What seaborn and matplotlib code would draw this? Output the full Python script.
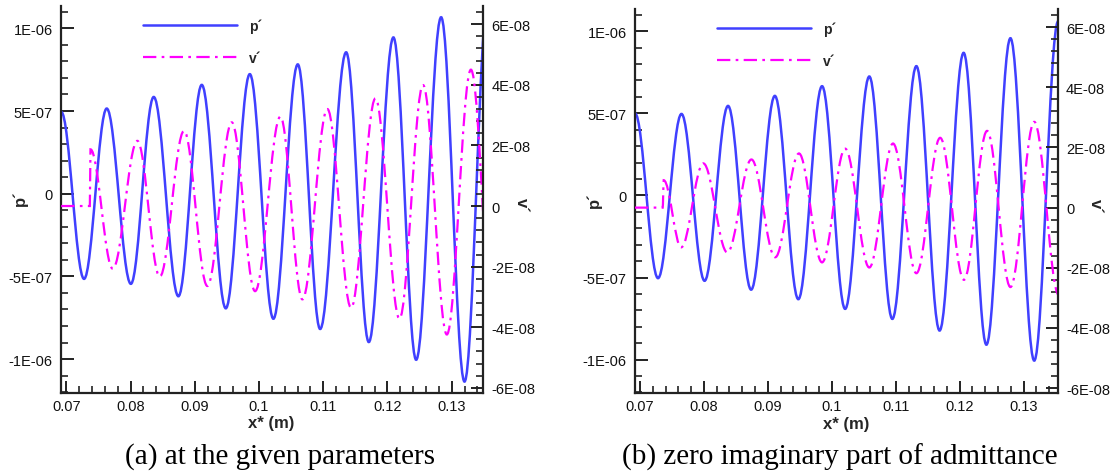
import matplotlib
matplotlib.use("Agg")
import matplotlib.pyplot as plt
import seaborn as sns
from matplotlib.path import Path
from matplotlib.patches import PathPatch
from matplotlib.lines import Line2D
from matplotlib.ticker import MultipleLocator

# ---------------- data (extrema) ----------------
# panel (a): at the given parameters
pa_x = [0.0692, 0.07276, 0.07629, 0.08005, 0.08361, 0.08745, 0.09109, 0.09483,
        0.09857, 0.10224, 0.10604, 0.10952, 0.11357, 0.11710, 0.12093, 0.12447,
        0.12836, 0.13200, 0.1357]
pa_y = [4.95e-7, -5.15e-7, 5.15e-7, -5.45e-7, 5.85e-7, -6.20e-7, 6.58e-7, -6.93e-7,
        7.23e-7, -7.56e-7, 7.82e-7, -8.18e-7, 8.55e-7, -8.97e-7, 9.45e-7, -1.004e-6,
        1.067e-6, -1.136e-6, 1.20e-6]
va_x = [0.0692, 0.07366, 0.07376, 0.07723, 0.08106, 0.08455, 0.08833, 0.09196,
        0.09576, 0.09939, 0.10333, 0.10676, 0.11065, 0.11434, 0.11813, 0.12187,
        0.12555, 0.12925, 0.13300, 0.1367]
va_y = [0.0, 0.0, 1.87e-8, -2.07e-8, 2.15e-8, -2.33e-8, 2.48e-8, -2.64e-8,
        2.76e-8, -2.81e-8, 2.95e-8, -3.08e-8, 3.20e-8, -3.36e-8, 3.55e-8, -3.72e-8,
        3.99e-8, -4.24e-8, 4.50e-8, -4.60e-8]

# panel (b): zero imaginary part of admittance
pb_x = [0.06923, 0.07283, 0.07650, 0.08011, 0.08378, 0.08739, 0.09110, 0.09477,
        0.09848, 0.10209, 0.10587, 0.10947, 0.11323, 0.11686, 0.12062, 0.12418,
        0.12794, 0.13166, 0.1354]
pb_y = [5.0e-7, -5.04e-7, 4.96e-7, -5.20e-7, 5.45e-7, -5.74e-7, 6.06e-7, -6.32e-7,
        6.65e-7, -6.91e-7, 7.24e-7, -7.52e-7, 7.87e-7, -8.23e-7, 8.68e-7, -9.09e-7,
        9.57e-7, -1.006e-6, 1.06e-6]
vb_x = [0.06923, 0.07356, 0.07372, 0.07645, 0.07991, 0.08367, 0.08744, 0.09116,
        0.09487, 0.09848, 0.10209, 0.10587, 0.10958, 0.11323, 0.11695, 0.12067,
        0.12429, 0.12794, 0.13166, 0.1355]
vb_y = [0.0, 0.0, 9.1e-9, -1.32e-8, 1.47e-8, -1.49e-8, 1.60e-8, -1.65e-8,
        1.80e-8, -1.82e-8, 1.96e-8, -1.99e-8, 2.13e-8, -2.18e-8, 2.32e-8, -2.40e-8,
        2.55e-8, -2.64e-8, 2.85e-8, -2.90e-8]

x_ticks = [0.07, 0.08, 0.09, 0.10, 0.11, 0.12, 0.13]
x_labels = ["0.07", "0.08", "0.09", "0.1", "0.11", "0.12", "0.13"]
p_ticks = [-1e-6, -5e-7, 0.0, 5e-7, 1e-6]
p_labels = ["-1E-06", "-5E-07", "0", "5E-07", "1E-06"]
v_ticks = [-6e-8, -4e-8, -2e-8, 0.0, 2e-8, 4e-8, 6e-8]
v_labels = ["-6E-08", "-4E-08", "-2E-08", "0", "2E-08", "4E-08", "6E-08"]
series_names = ["p\u00b4", "v\u00b4"]
captions = ["(a) at the given parameters", "(b) zero imaginary part of admittance"]

# ---------------- style ----------------
sns.set_theme(style="ticks")
plt.rcParams['font.family'] = ['Liberation Sans', 'DejaVu Sans']
BLUE = "#4040ff"
MAGENTA = "#ff00ff"
DARK = "#222222"
DASHDOT = (0, (6, 2.4, 1.2, 2.4))
P_LIM = (-1.205e-6, 1.135e-6)
V_LIM = (-6.17e-8, 6.6e-8)


def smooth_path(xs, ys, k=0.36):
    """Smooth (cosine-like) rendering through the read extrema."""
    verts = [(xs[0], ys[0])]
    codes = [Path.MOVETO]
    for i in range(1, len(xs)):
        x0, y0, x1, y1 = xs[i - 1], ys[i - 1], xs[i], ys[i]
        dx = x1 - x0
        verts += [(x0 + k * dx, y0), (x1 - k * dx, y1), (x1, y1)]
        codes += [Path.CURVE4] * 3
    return Path(verts, codes)


fig = plt.figure(figsize=(11.15, 4.77), dpi=100)
W, H = 1115.0, 477.0


def panel(rect, px, py, vx, vy, xlim, caption, cap_x, leg_px):
    ax = fig.add_axes(rect)
    ax2 = ax.twinx()
    ax.add_patch(PathPatch(smooth_path(px, py), fill=False, ec=BLUE, lw=1.8,
                           transform=ax.transData))
    ax2.add_patch(PathPatch(smooth_path(vx, vy), fill=False, ec=MAGENTA, lw=1.6,
                            ls=DASHDOT, transform=ax2.transData))
    ax.set_xlim(xlim)
    ax.set_ylim(P_LIM)
    ax2.set_ylim(V_LIM)

    for a in (ax, ax2):
        a.spines['top'].set_visible(False)
        for s in a.spines.values():
            s.set_linewidth(1.6)
            s.set_color(DARK)
    ax.spines['right'].set_visible(False)
    ax2.spines['left'].set_visible(False)
    ax2.spines['bottom'].set_visible(False)

    ax.set_xticks(x_ticks, labels=x_labels)
    ax.set_yticks(p_ticks, labels=p_labels)
    ax2.set_yticks(v_ticks, labels=v_labels)
    ax.xaxis.set_minor_locator(MultipleLocator(0.002))
    ax.yaxis.set_minor_locator(MultipleLocator(1e-7))
    ax2.yaxis.set_minor_locator(MultipleLocator(4e-9))

    ax.tick_params(axis='both', which='major', direction='in', length=9, width=1.4,
                   color=DARK, labelsize=10.5, labelcolor='#111111', pad=6,
                   right=False, top=False)
    ax.tick_params(axis='both', which='minor', direction='in', length=5, width=1.2,
                   color=DARK, right=False, top=False)
    ax.tick_params(axis='x', which='major', pad=4)
    ax2.tick_params(axis='y', which='major', direction='in', length=9, width=1.4,
                    color=DARK, labelsize=10.5, labelcolor='#111111', pad=6)
    ax2.tick_params(axis='y', which='minor', direction='in', length=5, width=1.2,
                    color=DARK)

    ax.set_ylabel(series_names[0], fontweight='bold', fontsize=12, rotation=90)
    ax.yaxis.set_label_coords(-0.078, 0.505)
    ax2.set_ylabel(series_names[1], fontweight='bold', fontsize=12, rotation=270,
                   va='center')
    ax2.yaxis.set_label_coords(1.09, 0.488)
    ax.set_xlabel("x* (m)", fontweight='bold', fontsize=12)
    ax.xaxis.set_label_coords(0.499, -0.058)

    handles = [Line2D([], [], color=BLUE, lw=1.8),
               Line2D([], [], color=MAGENTA, lw=1.6, ls=DASHDOT)]
    ax2.legend(handles, series_names, loc='upper left',
               bbox_to_anchor=((leg_px - rect[0] * W) / (rect[2] * W), 0.967),
               frameon=False, handlelength=6.8, handletextpad=0.8,
               labelspacing=1.3, borderpad=0, borderaxespad=0,
               prop={'weight': 'bold', 'size': 10})

    fig.text(cap_x, 1 - 457 / H, caption, ha='center', va='center',
             fontsize=21, family=['Liberation Serif', 'DejaVu Serif'], color='black')
    return ax, ax2


panel([61 / W, 1 - 394 / H, 422 / W, 387 / H], pa_x, pa_y, va_x, va_y,
      (0.06917, 0.13488), captions[0], 280 / W, 143)
panel([635 / W, 1 - 394.3 / H, 422.7 / W, 384.3 / H], pb_x, pb_y, vb_x, vb_y,
      (0.06923, 0.13533), captions[1], 839.5 / W, 717)

fig.savefig("out.png", dpi=100)
